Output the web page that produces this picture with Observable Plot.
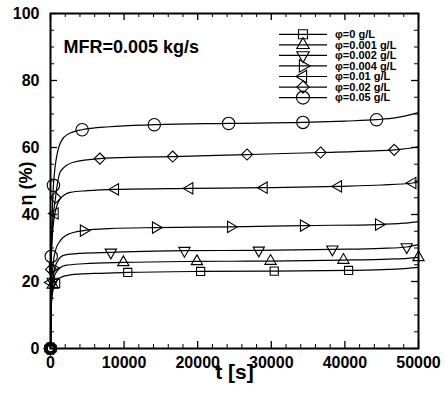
<!DOCTYPE html>
<html><head><meta charset="utf-8">
<script src="https://cdn.jsdelivr.net/npm/d3@7"></script>
<script src="https://cdn.jsdelivr.net/npm/@observablehq/plot@0.6"></script>
<style>body{margin:0;background:#fff} svg{display:block}</style>
</head><body><div id="chart"></div>
<script>
// ---- data ----
const seriesLabels = ["φ=0 g/L","φ=0.001 g/L","φ=0.002 g/L","φ=0.004 g/L","φ=0.01 g/L","φ=0.02 g/L","φ=0.05 g/L"];
const xTicks = [0,10000,20000,30000,40000,50000];
const yTicks = [0,20,40,60,80,100];
const annotation = "MFR=0.005 kg/s";
const xLabel = "t [s]";
const yLabel = "η (%)";

// curve samples (t in s, eta in %)
const t0 = [0,100,300,700,1100,2700,6000,10500,20400,30400,40500,46000,48500,50000];
const v0 = [0,12,17,19.4,20.9,22.0,22.4,22.7,23.0,23.1,23.3,23.6,23.9,24.2];
const t1 = [0,100,300,680,2000,4500,9900,19900,29900,39800,46000,48500,50000];
const v1 = [0,13,19,22.4,24.8,25.3,25.7,26.0,26.1,26.4,26.7,26.9,27.2];
const t2 = [0,100,300,680,1770,4000,8200,18200,28300,38300,45000,48400,50000];
const v2 = [0,14,20,24.8,27.8,28.4,28.7,29.2,29.3,29.6,29.9,30.3,31.0];
const t3 = [0,100,300,680,1200,2300,4500,8000,14300,24500,34400,44600,48000,50000];
const v3 = [0,16,24,29.3,31.8,34.0,35.2,35.8,36.1,36.3,36.7,37.0,37.4,37.9];
const t4 = [0,50,200,600,1360,2700,5000,8800,18900,29000,39100,45000,49200,50000];
const v4 = [0,19.7,32,40.3,44.8,46.6,47.1,47.5,47.8,48.0,48.4,48.8,49.4,49.7];
const t5 = [0,80,250,680,1000,1400,3100,6700,12000,16600,26700,36700,44000,46700,48500,50000];
const v5 = [0,23.6,36,45,50,53,55.6,56.7,57.1,57.3,57.9,58.5,59.0,59.3,59.7,60.3];
const t6 = [0,100,400,1000,1800,3000,4300,8000,14100,24200,34300,40000,44300,47000,50000];
const v6 = [0,27.5,48.7,59,63,64.6,65.3,66.2,66.8,67.2,67.5,67.9,68.3,68.9,70.4];

// marker positions
const mt0 = [0,700,10500,20400,30400,40500];
const mv0 = [0,19.4,22.7,23.0,23.1,23.3];
const mt1 = [0,300,9900,19900,29900,39800,50000];
const mv1 = [0,19,25.7,26.0,26.1,26.4,27.2];
const mt2 = [0,300,8200,18200,28300,38300,48400];
const mv2 = [0,20,28.7,29.2,29.3,29.6,30.3];
const mt3 = [0,300,4500,14300,24500,34400,44600];
const mv3 = [0,24,35.2,36.1,36.3,36.7,37.0];
const mt4 = [0,50,600,8800,18900,29000,39100,49200];
const mv4 = [0,19.7,40.3,47.5,47.8,48.0,48.4,49.4];
const mt5 = [0,80,680,6700,16600,26700,36700,46700];
const mv5 = [0,23.6,45,56.7,57.3,57.9,58.5,59.3];
const mt6 = [0,100,400,4300,14100,24200,34300,44300];
const mv6 = [0,27.5,48.7,65.3,66.8,67.2,67.5,68.3];

// ---- build ----
const T = [t0,t1,t2,t3,t4,t5,t6], V = [v0,v1,v2,v3,v4,v5,v6];
const MT = [mt0,mt1,mt2,mt3,mt4,mt5,mt6], MV = [mv0,mv1,mv2,mv3,mv4,mv5,mv6];

function rotTri(angleDeg) {
  const a = angleDeg * Math.PI / 180, c = Math.cos(a), s = Math.sin(a), sq3 = Math.sqrt(3);
  return { draw(ctx, size) {
    const y = -Math.sqrt(size / (sq3 * 3));
    const pts = [[0, 2*y], [-sq3*y, -y], [sq3*y, -y]].map(([px,py]) => [px*c - py*s, px*s + py*c]);
    ctx.moveTo(pts[0][0], pts[0][1]); ctx.lineTo(pts[1][0], pts[1][1]); ctx.lineTo(pts[2][0], pts[2][1]); ctx.closePath();
  }};
}
const symbols = ["square", "triangle", rotTri(180), rotTri(90), rotTri(-90), "diamond2", "circle"];
const radii = [4.6, 4.2, 4.2, 4.2, 4.2, 5.0, 6.2];

const lineData = T.flatMap((ts, i) => ts.map((t, j) => ({s: seriesLabels[i], t, v: V[i][j]})));

const W = 446, H = 396, mL = 50, mR = 28, mT = 13, mB = 48;
const fw = W - mL - mR, fh = H - mT - mB;
const xMinor = d3.range(0, 50001, 2000).filter(d => d % 10000);
const yMinor = d3.range(0, 101, 5).filter(d => d % 20);

const marks = [
  Plot.line(lineData, {x: "t", y: "v", z: "s", stroke: "black", strokeWidth: 1.2, curve: "monotone-x"}),
  ...MT.map((ts, i) => Plot.dot(ts.map((t, j) => ({t, v: MV[i][j]})), {x: "t", y: "v", symbol: symbols[i], r: radii[i], stroke: "black", fill: "none", strokeWidth: 1.1})),
  // ticks (inward, mirrored)
  Plot.tickX(xTicks, {x: d => d, insetTop: fh - 7, strokeWidth: 1.3}),
  Plot.tickX(xTicks, {x: d => d, insetBottom: fh - 7, strokeWidth: 1.3}),
  Plot.tickX(xMinor, {x: d => d, insetTop: fh - 4}),
  Plot.tickX(xMinor, {x: d => d, insetBottom: fh - 4}),
  Plot.tickY(yTicks, {y: d => d, insetRight: fw - 7, strokeWidth: 1.3}),
  Plot.tickY(yTicks, {y: d => d, insetLeft: fw - 7, strokeWidth: 1.3}),
  Plot.tickY(yMinor, {y: d => d, insetRight: fw - 4}),
  Plot.tickY(yMinor, {y: d => d, insetLeft: fw - 4}),
  Plot.frame({stroke: "black", strokeWidth: 2}),
  Plot.axisX({ticks: xTicks, tickSize: 0, tickPadding: 8, tickFormat: "d", fontSize: 16, fontWeight: "bold", label: null}),
  Plot.axisY({ticks: yTicks, tickSize: 0, tickPadding: 11, tickFormat: "d", fontSize: 16, fontWeight: "bold", label: null}),
  Plot.text([xLabel], {frameAnchor: "bottom", dy: 30, fontSize: 21, fontWeight: "bold"}),
  Plot.text([annotation], {frameAnchor: "top-left", dx: 13, dy: 27, textAnchor: "start", fontSize: 18, fontWeight: "bold"})
];

const svg = Plot.plot({
  width: W, height: H,
  marginLeft: mL, marginRight: mR, marginTop: mT, marginBottom: mB,
  x: {domain: [0, 50000], axis: null},
  y: {domain: [0, 100], axis: null},
  style: {fontFamily: "'Liberation Sans', Arial, sans-serif", background: "white", color: "black"},
  marks
});

// y-axis title (rotated), placed between the 60 and 40 tick labels
d3.select(svg).append("text")
  .attr("transform", `translate(26,${mT + fh / 2 + 3}) rotate(-90)`)
  .attr("text-anchor", "middle").attr("dy", "0.35em")
  .attr("font-size", 18).attr("font-weight", "bold")
  .attr("font-family", "'Liberation Sans', Arial, sans-serif")
  .text(yLabel);

// legend drawn inside the frame (upper right)
const g = d3.select(svg).append("g").attr("class", "legend").attr("text-anchor", "start");
seriesLabels.forEach((lab, i) => {
  const y = 34.3 + i * 10.55;
  g.append("line").attr("x1", 279).attr("x2", 327).attr("y1", y).attr("y2", y).attr("stroke", "black").attr("stroke-width", 1.2);
  const d3sym = {square: d3.symbolSquare, triangle: d3.symbolTriangle, diamond2: d3.symbolDiamond2, circle: d3.symbolCircle}[symbols[i]] || symbols[i];
  const r = radii[i] * (i === 6 ? 1.05 : 1.1);
  g.append("path").attr("d", d3.symbol(d3sym, Math.PI * r * r)()).attr("transform", `translate(303,${y})`)
    .attr("fill", "none").attr("stroke", "black").attr("stroke-width", 1.1);
  g.append("text").attr("x", 335).attr("y", y).attr("dy", "0.35em").attr("font-size", 11).attr("font-weight", "bold")
    .attr("text-anchor", "start")
    .attr("font-family", "'Liberation Sans', Arial, sans-serif").text(lab);
});

document.getElementById("chart").appendChild(svg);
</script>
</body></html>
